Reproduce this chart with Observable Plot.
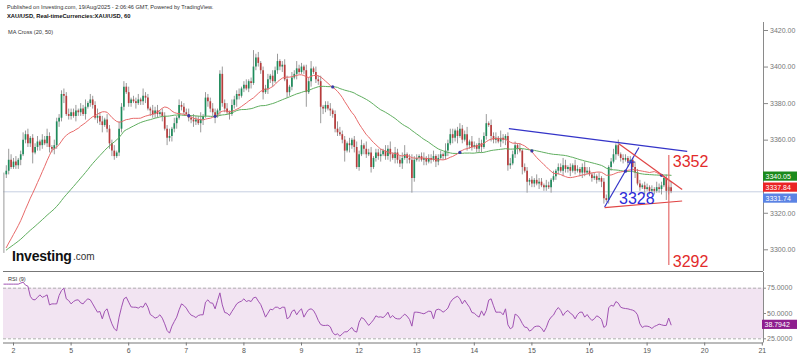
<!DOCTYPE html>
<html>
<head>
<meta charset="utf-8">
<script src="https://cdn.jsdelivr.net/npm/d3@7"></script>
<script src="https://cdn.jsdelivr.net/npm/@observablehq/plot@0.6"></script>
<style>
  html,body{margin:0;padding:0;background:#fff;}
  #wrap{position:relative;width:800px;height:358px;overflow:hidden;font-family:"Liberation Sans",Arial,sans-serif;}
  #main,#rsi{position:absolute;left:0;}
  #main{top:0;} #rsi{top:272px;}
  .t{position:absolute;white-space:nowrap;line-height:1;color:#333;}
</style>
</head>
<body>
<div id="wrap">
  <div id="main"></div>
  <div id="rsi"></div>
  <div class="t" style="left:7px;top:4.5px;font-size:5.6px;">Published on Investing.com, 19/Aug/2025 - 2:06:46 GMT, Powered by TradingView.</div>
  <div class="t" style="left:7px;top:13.8px;font-size:5.8px;font-weight:bold;color:#111;">XAU/USD, Real-timeCurrencies:XAU/USD, 60</div>
  <div class="t" style="left:8px;top:29.5px;font-size:5.6px;">MA Cross (20, 50)</div>
  <div class="t" style="left:12px;top:248.9px;font-size:14px;font-weight:bold;color:#111;letter-spacing:-0.2px;">Investing</div>
  <div class="t" style="left:73px;top:252.2px;font-size:10px;color:#333;">.com</div>
  <div class="t" style="left:8px;top:277px;font-size:5.6px;">RSI (9)</div>
</div>
<script>
// ---------- data ----------
const dayLabels = ["2","5","6","7","8","9","12","13","14","15","16","19","20","21"];
const barsPerDay = 24;

// anomalous first print (gray bar) and the MA level at the left edge
const firstPrintSlot = -4, firstPrintHigh = 3342, firstPrintLow = 3298;
const maSeed = 3299;
const firstOpen = 3341;
const firstCloseSlot = -3;

// hourly closes, per session
const closesLead = [3343,3349,3345];
const closesD2  = [3348,3346,3349,3352,3360,3363,3358,3361,3353,3356,3359,3357,3360,3358,3362,3356,3355,3357,3370,3372,3385,3384,3374,3373];
const closesD5  = [3375,3373,3376,3375,3377,3374,3378,3380,3382,3379,3372,3373,3370,3368,3371,3366,3358,3354,3351,3353,3366,3378,3389,3386];
const closesD6  = [3380,3382,3381,3380,3382,3381,3384,3383,3377,3376,3374,3376,3374,3375,3373,3366,3361,3362,3366,3369,3372,3379,3378,3375];
const closesD7  = [3374,3372,3371,3370,3371,3369,3371,3373,3383,3381,3377,3375,3373,3376,3396,3380,3377,3375,3374,3379,3382,3385,3384,3388];
const closesD8  = [3390,3388,3392,3391,3400,3405,3402,3398,3386,3388,3393,3395,3392,3398,3403,3400,3401,3393,3386,3389,3394,3396,3399,3397];
const closesD9  = [3400,3398,3386,3392,3399,3397,3393,3392,3378,3377,3379,3377,3376,3374,3366,3364,3363,3360,3354,3358,3357,3360,3356,3345];
const closesD12 = [3352,3357,3355,3352,3353,3345,3350,3353,3351,3352,3354,3351,3355,3352,3350,3353,3349,3347,3350,3352,3350,3349,3339,3349];
const closesD13 = [3350,3351,3349,3350,3348,3350,3349,3351,3348,3350,3352,3351,3354,3358,3363,3361,3365,3362,3366,3360,3363,3357,3359,3356];
const closesD14 = [3357,3355,3358,3356,3362,3369,3368,3362,3360,3361,3359,3361,3360,3362,3346,3347,3352,3357,3355,3354,3345,3343,3337,3338];
const closesD15 = [3336,3338,3336,3337,3335,3334,3335,3334,3338,3340,3343,3345,3343,3346,3344,3345,3343,3346,3343,3344,3342,3345,3342,3343];
const closesD16 = [3341,3339,3340,3338,3339,3337,3328,3327,3345,3348,3352,3357,3352,3350,3349,3350,3348,3349,3345,3342,3336,3334,3335,3333];
const closesD19 = [3334,3332,3333,3332,3334,3333,3335,3339,3332,3334,3331.74];

// wick lengths (USD) above / below the body, one digit per bar
const wickUpParts = ["363","231242312231324213222323","223132413224231322314232","312231422132312224131322","231322413223212423132231","231292312231324123213242","213241323122312432213123","231423122313241322351232","212312231221423312322413","213225132314212322131221","213221321312243121321232","212131221231312212132212","21213221213"];
const wickDnParts = ["221","122312226123212323232412","213221312213241233212221","221312231322213142323121","122321531322413221312421","212312224132312231322131","128131229321322212614231","213213122312241322313282","121321213212231324121322","122312132213233212314162","221312213122132231212321","121213312213122131231213","12121231521"];

// RSI(9) values, one per bar starting at the first print
const rsiStartSlot = -4;
const rsiValues = [
79,79,79,79,79,79,79,80,81,78,77,
67,63.8,63.5,66,68.4,66,67,68.4,58.5,59.5,59.5,59.5,67.8,72.7,75,64.5,62.8,
59.5,61.8,63.2,63.5,60.5,59.5,62.5,64.5,63.5,59.5,55.3,51.3,52,44.7,52.3,54.6,46.4,39.8,34.9,32.9,46.4,56.2,64.5,66.1,
61.2,56.5,56.2,56.2,55.3,56.9,56.2,60.5,56.2,49,47.4,45.4,46.4,48.7,45.4,39.8,33.2,30.6,37.5,42.1,46.4,53.6,59.5,57.9,
55.3,51.3,48.4,47.4,46,48,48.7,48.7,61.2,63.5,60.5,60.2,54.6,62.8,70.4,58.5,51,50.3,48,52,55.6,59.5,61.2,62.2,
64.5,61.8,62.8,61.8,65.5,66.1,62.2,58.9,53,46.4,50.3,54.3,53.6,56.2,56.2,54.6,56.2,56.2,44.7,46.4,52,53.6,48.7,52.3,
54.6,46.4,50.7,53.9,54.6,53,48.7,43.1,39.1,38.2,38.2,38.5,36.8,31.2,28.9,29.9,27.6,29.9,31.9,31.9,34.2,36.2,32.6,31.6,
41.4,46,44.7,41.4,38.2,40.8,43.7,47.7,46.4,46.7,46,48,51.3,45.7,48,45.4,44.7,44.7,47,49.4,47.4,44.1,37.5,51.3,
51.3,51,50.3,49.7,51,52.3,52,44.7,53.3,54.3,53.3,51.3,53,55.3,60.9,64.1,65.8,67.1,64.5,59.5,63.2,59.5,56.2,51,
50.3,48,46.4,52.6,48,53,63.2,64.5,57.6,51.3,51.3,51.3,48.7,54.6,38.8,34.9,36.5,49.4,48,44.7,40.1,36.5,36.2,32.6,
33.9,36.8,37.5,37.5,35.5,31.9,36.2,42.8,46.4,48.4,53,55.9,53,48,51.3,53,50.3,48.7,44.7,49,51.3,51.3,46.4,49,
45.7,43.1,44.7,47.7,46.4,44.1,36.2,38.2,55.6,58.2,57.2,61.8,60.2,56.2,55.3,54.9,54.6,53.9,53.3,52,48.7,39.8,36.2,37.5,
37.5,36.8,35.2,37.2,38.2,39.5,38.8,38.2,38.2,45.5,38.7942];

const priceTicks = [3300,3320,3360,3380,3400,3420];
const rsiTicks = [25,50,75];
const rsiBandLow = 25, rsiBandHigh = 75;
const lastMa50 = 3340.05, lastMa20 = 3337.84, lastRsi = 38.7942;

// drawn annotations: [slot1, price1, slot2, price2]
const blueLines = [[206.4,3366.3,280.7,3353.9],[246.3,3323.4,260.6,3356.0]];
const redLines  = [[252.2,3358.0,278.6,3333.0],[246.3,3323.1,278.6,3326.7]];
const redTarget = [273.05,3351.6,3291.4];
const blueMeasure = [257.5,3348.0,3331.4];
const annoTexts = ["3328","3352","3292"];
const annoSlots = [259.7,282.1,282.1];
const annoPrices = [3327.9,3347.9,3293.2];
const annoColors = ["#2a2ad8","#e22b2b","#e22b2b"];

// ---------- build ----------
const closes = [closesLead,closesD2,closesD5,closesD6,closesD7,closesD8,closesD9,closesD12,closesD13,closesD14,closesD15,closesD16,closesD19].flat();
const wickUp = wickUpParts.join(""), wickDn = wickDnParts.join("");
const bars = closes.map((c,i) => {
  const o = i === 0 ? firstOpen : closes[i-1];
  const u = +(wickUp[i] || 2), dn = +(wickDn[i] || 2);
  let b0 = Math.min(o,c), b1 = Math.max(o,c);
  if (b1 - b0 < 0.5) { const m = (b0+b1)/2; b0 = m-0.3; b1 = m+0.3; }
  return {slot: firstCloseSlot + i, open: o, close: c, high: Math.max(o,c)+u, low: Math.min(o,c)-dn, b0, b1, up: c >= o};
});
function sma(vals, n, seed) {
  return vals.map((_,i) => { let s = 0; for (let k = i-n+1; k <= i; k++) s += k < 0 ? seed : vals[k]; return s/n; });
}
const ma20 = sma(closes, 20, maSeed), ma50 = sma(closes, 50, maSeed);
const maRows = closes.map((_,i) => ({slot: firstCloseSlot+i, ma20: ma20[i], ma50: ma50[i]}));
const crosses = maRows.filter((d,i) => i > 0 && Math.sign(d.ma20-d.ma50) !== Math.sign(maRows[i-1].ma20-maRows[i-1].ma50))
  .map(d => ({slot: d.slot, y: (d.ma20+d.ma50)/2}));
const lastClose = closes[closes.length-1];
const rsiRows = rsiValues.map((v,i) => ({slot: rsiStartSlot+i, v}));
const daySlots = dayLabels.map((_,i) => i*barsPerDay);
const lineRows = (arr) => arr.map(a => ({x1:a[0], y1:a[1], x2:a[2], y2:a[3]}));
const annoRows = annoTexts.map((t,i) => ({t, x: annoSlots[i], y: annoPrices[i], c: annoColors[i]}));

const xDomain = [-25/6, 312.5];
const FONT = "Liberation Sans, Arial, sans-serif";
const UP = "#1f8c5c", DOWN = "#b83c3c", WICK = "#9a9a9a";

const main = Plot.plot({
  width: 800, height: 272,
  marginLeft: 3, marginRight: 37, marginTop: 22, marginBottom: 1,
  x: {domain: xDomain, axis: null},
  y: {domain: [3288.13, 3424.38], axis: null},
  style: {fontFamily: FONT, background: "transparent", overflow: "visible", color: "#777"},
  marks: [
    Plot.ruleY([lastClose], {stroke: "#c6cfe2", strokeWidth: 1}),
    Plot.ruleX([firstPrintSlot], {y1: () => firstPrintLow, y2: () => firstPrintHigh, stroke: WICK}),
    Plot.ruleX(bars, {x: "slot", y1: "low", y2: "high", stroke: WICK, strokeWidth: 1}),
    Plot.ruleX(bars.filter(d => d.up), {x: "slot", y1: "b0", y2: "b1", stroke: UP, strokeWidth: 1.7}),
    Plot.ruleX(bars.filter(d => !d.up), {x: "slot", y1: "b0", y2: "b1", stroke: DOWN, strokeWidth: 1.7}),
    Plot.line(maRows, {x: "slot", y: "ma50", stroke: "#5fae5f", strokeWidth: 1}),
    Plot.line(maRows, {x: "slot", y: "ma20", stroke: "#e86a6a", strokeWidth: 1}),
    Plot.dot(crosses, {x: "slot", y: "y", r: 1.6, fill: "#3b3ba8"}),
    Plot.link(lineRows(blueLines), {x1: "x1", y1: "y1", x2: "x2", y2: "y2", stroke: "#3434c8", strokeWidth: 1.2}),
    Plot.link(lineRows(redLines), {x1: "x1", y1: "y1", x2: "x2", y2: "y2", stroke: "#e04545", strokeWidth: 1.2}),
    Plot.ruleX([redTarget], {x: d => d[0], y1: d => d[1], y2: d => d[2], stroke: "#e46a6a", strokeWidth: 1.2}),
    Plot.ruleX([blueMeasure], {x: d => d[0], y1: d => d[1], y2: d => d[2], stroke: "#3434c8", strokeWidth: 1.2}),
    Plot.ruleY([blueMeasure], {y: d => d[1], x1: d => d[0]-1.6, x2: d => d[0]+1.6, stroke: "#3434c8", strokeWidth: 1.2}),
    Plot.text(annoRows, {x: "x", y: "y", text: "t", fill: "c", fontSize: 16, fontFamily: FONT}),
    Plot.ruleX([xDomain[1]], {stroke: "#8a8a8a"}),
    Plot.ruleY([3288.13], {x1: () => xDomain[0], x2: () => xDomain[1], stroke: "#777"}),
    Plot.axisY(priceTicks, {anchor: "right", tickFormat: d => d.toFixed(2), tickSize: 4, tickPadding: 2.5, fontSize: 7, label: null, stroke: "#888", fill: "#777"})
  ]
});
document.getElementById("main").appendChild(main);

// value badges on the price axis
(function(){
  const ys = main.scale("y");
  const items = [
    {value: lastMa50, label: lastMa50.toFixed(2), fill: "#1b8a1b"},
    {value: lastMa20, label: lastMa20.toFixed(2), fill: "#ea2424"},
    {value: lastClose, label: lastClose.toFixed(2), fill: "#5b83e4"}
  ].sort((a,b) => b.value - a.value);
  const g = d3.select(main).append("g").attr("font-family", FONT).attr("text-anchor", "start");
  let prev = -Infinity;
  for (const it of items) {
    let y = ys.apply(it.value);
    if (y < prev + 11) y = prev + 11;
    prev = y;
    g.append("rect").attr("x", 763).attr("y", y - 4.6).attr("width", 34).attr("height", 9.2).attr("fill", it.fill);
    g.append("text").attr("x", 765.5).attr("y", y).attr("dy", "0.35em").attr("font-size", 7).attr("text-anchor", "start").attr("fill", "#fff").text(it.label);
  }
})();

const rsiPlot = Plot.plot({
  width: 800, height: 86,
  marginLeft: 3, marginRight: 37, marginTop: 0, marginBottom: 15.5,
  x: {domain: xDomain, axis: null},
  y: {domain: [20.85, 90.5], axis: null},
  style: {fontFamily: FONT, background: "transparent", overflow: "visible", color: "#666"},
  marks: [
    Plot.rect([0], {x1: () => xDomain[0], x2: () => xDomain[1], y1: () => rsiBandLow, y2: () => rsiBandHigh, fill: "#f2e4f2"}),
    Plot.ruleY([rsiBandLow, rsiBandHigh], {stroke: "#b0b0b0", strokeDasharray: "3,2"}),
    Plot.line(rsiRows, {x: "slot", y: "v", stroke: "#a052b2", strokeWidth: 1}),
    Plot.ruleX([xDomain[1]], {stroke: "#8a8a8a"}),
    Plot.ruleY([20.85], {stroke: "#777"}),
    Plot.axisY(rsiTicks, {anchor: "right", tickFormat: d => d.toFixed(4), tickSize: 2, tickPadding: 1.5, fontSize: 7, label: null, stroke: "#888", fill: "#777"}),
    Plot.axisX(daySlots, {anchor: "bottom", tickFormat: d => dayLabels[daySlots.indexOf(d)], tickSize: 3, tickPadding: 2, fontSize: 7, label: null, stroke: "#777", fill: "#555"})
  ]
});
document.getElementById("rsi").appendChild(rsiPlot);

(function(){
  const ys = rsiPlot.scale("y");
  const y = ys.apply(lastRsi);
  const g = d3.select(rsiPlot).append("g").attr("font-family", FONT).attr("text-anchor", "start");
  g.append("rect").attr("x", 762).attr("y", y - 4.6).attr("width", 35).attr("height", 9.2).attr("fill", "#8e1e8e");
  g.append("text").attr("x", 764.5).attr("y", y).attr("dy", "0.35em").attr("font-size", 7).attr("text-anchor", "start").attr("fill", "#fff").text(lastRsi.toFixed(4));
})();
</script>
</body>
</html>
